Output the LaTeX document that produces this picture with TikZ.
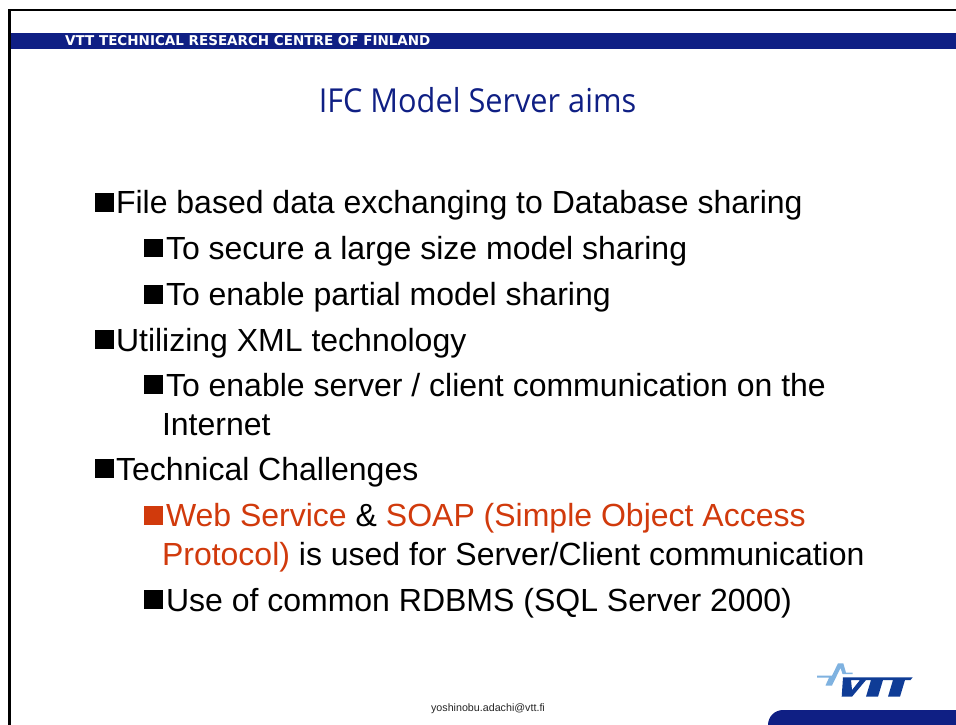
\documentclass[tikz,border=0pt]{standalone}
\usepackage{fontspec}
\setmainfont{Liberation Sans}
\newfontfamily\titlefont{Open Sans}
\newfontfamily\bandfont{DejaVu Sans}
\definecolor{vttblue}{HTML}{0F1F84}
\definecolor{vttred}{HTML}{D13A0C}
\definecolor{vttlight}{HTML}{7FB2E0}
\definecolor{vttlogo}{HTML}{0F3C96}
\tikzset{
  body/.style={anchor=base west,inner sep=0pt,outer sep=0pt,font=\fontsize{32}{32}\selectfont,text=black},
  sq/.style={fill=black,draw=none},
}
\begin{document}
\begin{tikzpicture}[x=1pt,y=-1pt]
\useasboundingbox (0,0) rectangle (956,725);
\fill[white] (0,0) rectangle (956,725);
\fill[black] (8,9) rectangle (956,11.5);
\fill[black] (8,9) rectangle (11,725);
\fill[vttblue] (11,33) rectangle (956,49);
\node[anchor=base west,inner sep=0pt,text=white,font=\bandfont\bfseries\fontsize{13.5}{14}\selectfont] (band) at (65,46) {VTT TECHNICAL RESEARCH CENTRE OF FINLAND};
\node[anchor=base,inner sep=0pt,text=vttblue,font=\titlefont\fontsize{33}{33}\selectfont,xscale=.93] (title) at (477.5,112) {IFC Model Server aims};
\foreach \x/\y in {95/193,144/238.5,144/285,95/330,144/375,95/459,144/590}
  \fill[sq] (\x,\y) rectangle ++(18.5,18.5);
\fill[vttred] (144,506) rectangle ++(18.5,18.5);
\node[body] (a) at (116,213.5) {File based data exchanging to Database sharing};
\node[body] (b) at (166,259) {To secure a large size model sharing};
\node[body] (c) at (166,305) {To enable partial model sharing};
\node[body] (d) at (116,351) {Utilizing XML technology};
\node[body] (e) at (166,396) {To enable server / client communication on the};
\node[body] (f) at (162,435) {Internet};
\node[body] (g) at (116,480) {Technical Challenges};
\node[body] (h) at (166,526.5) {\textcolor{vttred}{Web Service} \& \textcolor{vttred}{SOAP (Simple Object Access}};
\node[body] (i) at (162,565.5) {\textcolor{vttred}{Protocol)} is used for Server/Client communication};
\node[body] (j) at (166,611) {Use of common RDBMS (SQL Server 2000)};
\node[anchor=base,inner sep=0pt,font=\fontsize{10.7}{11}\selectfont,text=black!85] (mail) at (488,711.5) {yoshinobu.adachi@vtt.fi};
% logo
\fill[vttlight] (817,675.7) -- (832,675.7) -- (838,663.3) -- (843.3,663.3) -- (846,672.7) -- (852.7,672.7) -- (852.7,674) -- (842.5,674) -- (840.5,668) -- (832,685.5) -- (825.5,685.5) -- (829,677.7) -- (817,677.7) -- cycle;
\fill[vttlogo,even odd rule] (843,677.3) -- (912.7,677.3) -- (910.5,680) -- (905,680) -- (900,696.7) -- (888,696.7) -- (893,680) -- (883,680) -- (878,696.7) -- (866,696.7) -- (871,680) -- (866,680) -- (852,696.7) -- (841.7,696.7) -- cycle
  (851,680) -- (860,680) -- (852,690) -- cycle;
\fill[vttblue] (768,725) arc[start angle=180,end angle=270,radius=15] -- (956,710) -- (956,725) -- cycle;
\end{tikzpicture}
\end{document}
